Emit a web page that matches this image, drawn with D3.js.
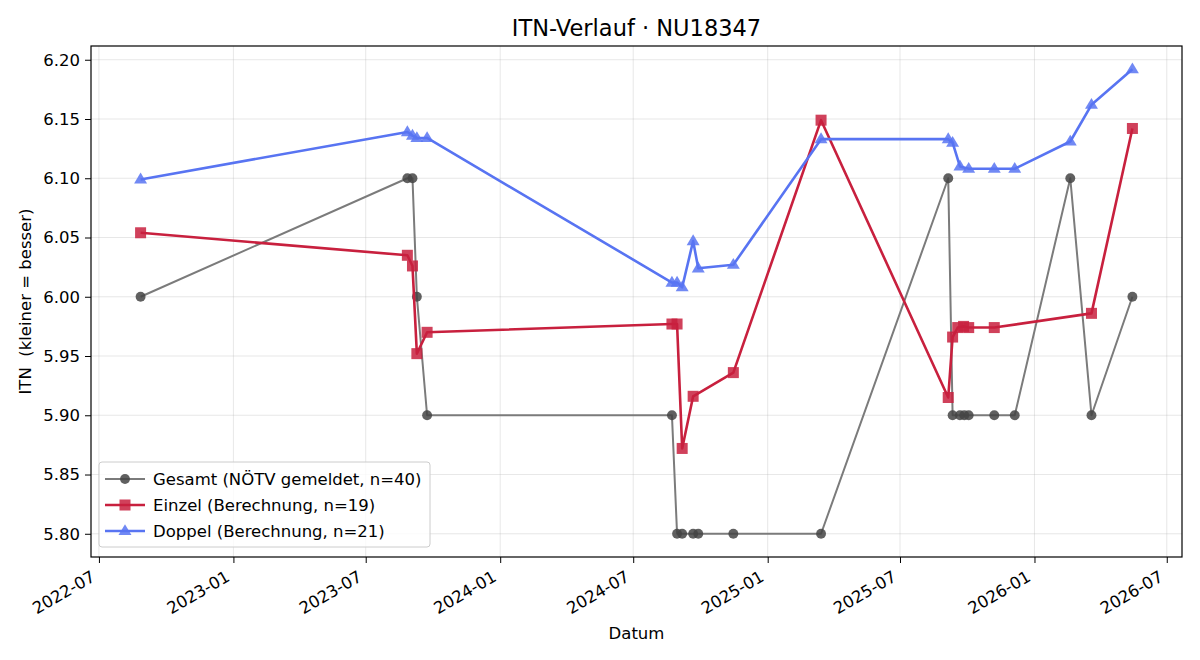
<!DOCTYPE html>
<html>
<head>
<meta charset="utf-8">
<script src="https://cdn.jsdelivr.net/npm/d3@7.9.0/dist/d3.min.js"></script>
<style>
  body { margin: 0; background: #fff; }
  svg, svg text { font-family: "DejaVu Sans", sans-serif; }
</style>
</head>
<body>
<svg width="1200" height="660"></svg>
<script>
// Gesamt (NÖTV gemeldet)
const gesamtDates = ['2022-08-27','2023-08-27','2023-09-03','2023-09-09','2023-09-23','2024-08-23','2024-08-30','2024-09-06','2024-09-21','2024-09-28','2024-11-15','2025-03-15','2025-09-05','2025-09-11','2025-09-21','2025-09-27','2025-10-03','2025-11-07','2025-12-05','2026-02-19','2026-03-20','2026-05-15'];
const gesamtValues = [6.00,6.10,6.10,6.00,5.90,5.90,5.80,5.80,5.80,5.80,5.80,5.80,6.10,5.90,5.90,5.90,5.90,5.90,5.90,6.10,5.90,6.00];

// Einzel (Berechnung)
const einzelDates = ['2022-08-27','2023-08-27','2023-09-03','2023-09-09','2023-09-23','2024-08-23','2024-08-30','2024-09-06','2024-09-21','2024-11-15','2025-03-15','2025-09-05','2025-09-11','2025-09-18','2025-09-26','2025-10-03','2025-11-07','2026-03-20','2026-05-15'];
const einzelValues = [6.054,6.035,6.026,5.952,5.970,5.977,5.977,5.872,5.916,5.936,6.149,5.915,5.966,5.974,5.975,5.974,5.974,5.986,6.142];

// Doppel (Berechnung)
const doppelDates = ['2022-08-27','2023-08-27','2023-09-03','2023-09-09','2023-09-23','2024-08-23','2024-08-30','2024-09-06','2024-09-21','2024-09-28','2024-11-15','2025-03-15','2025-09-05','2025-09-11','2025-09-21','2025-10-03','2025-11-07','2025-12-05','2026-02-19','2026-03-20','2026-05-15'];
const doppelValues = [6.099,6.139,6.136,6.134,6.134,6.012,6.012,6.008,6.047,6.024,6.027,6.133,6.133,6.130,6.110,6.108,6.108,6.108,6.131,6.162,6.192];

const seriesNames = ['Gesamt (NÖTV gemeldet, n=40)', 'Einzel (Berechnung, n=19)', 'Doppel (Berechnung, n=21)'];
const yTicks = [5.80, 5.85, 5.90, 5.95, 6.00, 6.05, 6.10, 6.15, 6.20];

const parse = d3.timeParse('%Y-%m-%d');
const zip = (ds, vs) => ds.map((d, i) => ({ date: parse(d), value: vs[i] }));

const series = [
  { name: seriesNames[0], data: zip(gesamtDates, gesamtValues), line: '#7b7b7b', mark: '#444444', width: 2, shape: 'circle' },
  { name: seriesNames[1], data: zip(einzelDates, einzelValues), line: '#c8203e', mark: '#c8203e', width: 2.6, shape: 'square' },
  { name: seriesNames[2], data: zip(doppelDates, doppelValues), line: '#5874f2', mark: '#5874f2', width: 2.6, shape: 'triangle' },
];

const FS = 16.5;
const margin = { top: 46, right: 18, bottom: 103, left: 91 };
const W = 1200, H = 660;
const iw = W - margin.left - margin.right;
const ih = H - margin.top - margin.bottom;

const svg = d3.select('svg');
const g = svg.append('g').attr('transform', `translate(${margin.left},${margin.top})`);

// matplotlib-style 5% padding
const allPts = series.flatMap(s => s.data);
const [d0, d1] = d3.extent(allPts, d => d.date);
const dPad = (d1 - d0) * 0.05;
const [v0, v1] = d3.extent(allPts, d => d.value);
const vPad = (v1 - v0) * 0.05;

const x = d3.scaleTime().domain([new Date(+d0 - dPad), new Date(+d1 + dPad)]).range([0, iw]);
const y = d3.scaleLinear().domain([v0 - vPad, v1 + vPad]).range([ih, 0]);

const xTicks = d3.timeMonth.every(6).range(new Date(2022, 6, 1), new Date(2026, 7, 1));

// grid
g.append('g').selectAll('line').data(xTicks).join('line')
  .attr('x1', d => x(d)).attr('x2', d => x(d)).attr('y1', 0).attr('y2', ih)
  .attr('stroke', '#b0b0b0').attr('stroke-opacity', 0.35).attr('stroke-width', 0.9);
g.append('g').selectAll('line').data(yTicks).join('line')
  .attr('y1', d => y(d)).attr('y2', d => y(d)).attr('x1', 0).attr('x2', iw)
  .attr('stroke', '#b0b0b0').attr('stroke-opacity', 0.35).attr('stroke-width', 0.9);

// axes
const xAxis = g.append('g').attr('transform', `translate(0,${ih})`)
  .call(d3.axisBottom(x).tickValues(xTicks).tickFormat(d3.timeFormat('%Y-%m')).tickSizeOuter(0).tickSize(6).tickPadding(6));
xAxis.attr('font-family', null).attr('font-size', null);
xAxis.select('.domain').remove();
xAxis.selectAll('text')
  .attr('font-size', FS).attr('fill', '#000')
  .attr('text-anchor', 'end')
  .attr('dy', null).attr('y', null)
  .attr('transform', 'translate(-3,23) rotate(-30)');

const yAxis = g.append('g')
  .call(d3.axisLeft(y).tickValues(yTicks).tickFormat(d3.format('.2f')).tickSizeOuter(0).tickSize(6).tickPadding(5));
yAxis.attr('font-family', null).attr('font-size', null);
yAxis.select('.domain').remove();
yAxis.selectAll('text').attr('font-size', FS).attr('fill', '#000');

g.append('rect').attr('width', iw).attr('height', ih)
  .attr('fill', 'none').attr('stroke', '#000').attr('stroke-width', 1.2);

// markers
function drawMarker(sel, shape, color, size) {
  if (shape === 'circle') {
    sel.append('circle').attr('r', size * 0.45).attr('fill', color).attr('fill-opacity', 0.85);
  } else if (shape === 'square') {
    sel.append('rect').attr('x', -size / 2).attr('y', -size / 2).attr('width', size).attr('height', size)
      .attr('fill', color).attr('fill-opacity', 0.85);
  } else {
    const r = size * 0.62;
    sel.append('path').attr('d', `M0,${-r} L${r * 0.95},${r * 0.6} L${-r * 0.95},${r * 0.6} Z`)
      .attr('fill', color).attr('fill-opacity', 0.85);
  }
}

const line = d3.line().x(d => x(d.date)).y(d => y(d.value));
series.forEach(s => {
  g.append('path').datum(s.data).attr('d', line)
    .attr('fill', 'none').attr('stroke', s.line).attr('stroke-width', s.width)
    .attr('stroke-linejoin', 'round');
  g.append('g').selectAll('g').data(s.data).join('g')
    .attr('transform', d => `translate(${x(d.date)},${y(d.value)})`)
    .each(function () { drawMarker(d3.select(this), s.shape, s.mark, 11); });
});

// legend
const lg = g.append('g').attr('transform', 'translate(8,416)');
lg.append('rect').attr('width', 331).attr('height', 85).attr('rx', 3)
  .attr('fill', '#fff').attr('fill-opacity', 0.8).attr('stroke', '#cccccc');
series.forEach((s, i) => {
  const row = lg.append('g').attr('transform', `translate(0,${17 + i * 26})`);
  row.append('line').attr('x1', 6).attr('x2', 46).attr('stroke', s.line).attr('stroke-width', s.width);
  const m = row.append('g').attr('transform', 'translate(26,0)');
  drawMarker(m, s.shape, s.mark, 11);
  row.append('text').attr('x', 54).attr('dy', '0.35em').attr('font-size', FS).text(s.name);
});

// titles
svg.append('text').attr('x', margin.left + iw / 2).attr('y', 36).attr('text-anchor', 'middle')
  .attr('font-size', 22.5).text('ITN-Verlauf · NU18347');
svg.append('text').attr('x', margin.left + iw / 2).attr('y', 639).attr('text-anchor', 'middle')
  .attr('font-size', FS).text('Datum');
svg.append('text').attr('transform', `translate(31,${margin.top + ih / 2}) rotate(-90)`)
  .attr('text-anchor', 'middle').attr('font-size', FS).attr('xml:space', 'preserve')
  .style('white-space', 'pre').text('ITN  (kleiner = besser)');
</script>
</body>
</html>
